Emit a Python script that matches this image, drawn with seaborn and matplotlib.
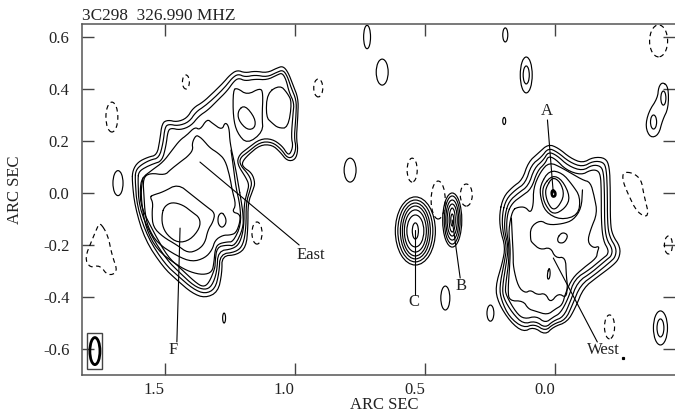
import matplotlib
matplotlib.use("Agg")
import matplotlib.pyplot as plt
import seaborn as sns
from matplotlib.patches import Ellipse, Rectangle

# === Tick labels and text ===
x_ticks = [1.5, 1.0, 0.5, 0.0]
x_labels = ["1.5", "1.0", "0.5", "0.0"]
y_ticks = [0.6, 0.4, 0.2, 0.0, -0.2, -0.4, -0.6]
y_labels = ["0.6", "0.4", "0.2", "0.0", "-0.2", "-0.4", "-0.6"]
title_text = "3C298  326.990 MHZ"
axis_text = "ARC SEC"

# Contour x values below were read against the tick labels, which sit left of
# their ticks, so they get this small correction when drawn
X_ZERO = 0.0166
X_SCALE = 1.0208

# === East lobe contours (arc sec, arc sec) ===
east_1 = [(1.577,.05),(1.574,.088),(1.555,.119),(1.517,.138),(1.483,.146),(1.472,.204),(1.464,.269),(1.442,.281),
          (1.408,.273),(1.370,.288),(1.347,.327),(1.309,.35),(1.272,.385),(1.234,.423),(1.208,.454),(1.181,.473),
          (1.151,.462),(1.113,.469),(1.068,.462),(1.030,.481),(1.008,.488),(.989,.465),(.970,.415),(.951,.365),
          (.951,.308),(.958,.215),(.951,.165),(.962,.127),(.992,.123),(1.019,.158),(1.049,.185),(1.094,.185),
          (1.140,.146),(1.162,.119),(1.159,.1),(1.125,.077),(1.113,.038),(1.121,.012),(1.140,-.038),(1.140,-.131),
          (1.147,-.208),(1.181,-.238),(1.238,-.242),(1.238,-.308),(1.253,-.381),(1.302,-.404),(1.351,-.385),
          (1.408,-.335),(1.460,-.285),(1.528,-.181),(1.566,-.054)]
east_2 = [(1.566,.058),(1.562,.088),(1.543,.108),(1.509,.127),(1.475,.135),(1.460,.192),(1.453,.254),(1.438,.265),
          (1.404,.258),(1.362,.273),(1.336,.312),(1.302,.335),(1.264,.369),(1.226,.408),(1.200,.442),(1.177,.458),
          (1.151,.446),(1.113,.454),(1.068,.446),(1.030,.465),(1.008,.473),(.992,.45),(.977,.404),(.958,.358),
          (.958,.308),(.966,.215),(.958,.173),(.970,.138),(.992,.135),(1.015,.169),(1.049,.196),(1.094,.196),
          (1.140,.158),(1.170,.135),(1.170,.108),(1.136,.069),(1.125,.038),(1.132,.012),(1.147,-.038),(1.147,-.131),
          (1.158,-.2),(1.185,-.227),(1.245,-.235),(1.249,-.308),(1.264,-.369),(1.302,-.388),(1.347,-.369),
          (1.404,-.319),(1.453,-.273),(1.517,-.173),(1.558,-.054)]
east_3 = [(1.555,.058),(1.551,.081),(1.532,.096),(1.498,.112),(1.464,.123),(1.449,.181),(1.442,.238),(1.430,.25),
          (1.396,.242),(1.355,.258),(1.325,.296),(1.291,.319),(1.257,.354),(1.219,.392),(1.192,.431),(1.174,.442),
          (1.151,.431),(1.113,.438),(1.068,.435),(1.030,.454),(1.011,.462),(.996,.435),(.985,.388),(.966,.346),
          (.970,.308),(.977,.215),(.970,.181),(.981,.15),(.992,.15),(1.011,.181),(1.049,.208),(1.094,.208),
          (1.140,.173),(1.174,.146),(1.181,.112),(1.147,.058),(1.136,.031),(1.143,.004),(1.155,-.046),(1.155,-.131),
          (1.170,-.192),(1.196,-.215),(1.253,-.223),(1.257,-.304),(1.276,-.358),(1.302,-.373),(1.343,-.358),
          (1.400,-.304),(1.445,-.258),(1.505,-.165),(1.551,-.054)]
east_4 = [(1.174,.019),(1.166,-.027),(1.158,-.085),(1.158,-.135),(1.189,-.204),(1.219,-.2),(1.257,-.208),(1.264,-.265),
          (1.264,-.288),(1.287,-.346),(1.309,-.362),(1.340,-.342),(1.396,-.288),(1.442,-.246),(1.494,-.154),
          (1.543,-.054),(1.547,.012),(1.540,.058),(1.502,.088),(1.460,.119),(1.426,.165),(1.396,.204),(1.370,.223),
          (1.340,.254),(1.321,.242),(1.294,.285),(1.275,.269),(1.238,.242),(1.226,.273),(1.211,.254),(1.208,.192),
          (1.189,.108)]
east_5 = [(1.536,.058),(1.509,.077),(1.453,.069),(1.434,.088),(1.396,.119),(1.370,.138),(1.347,.165),(1.351,.192),
          (1.336,.223),(1.321,.215),(1.309,.204),(1.283,.173),(1.253,.154),(1.226,.127),(1.208,.062),(1.200,.012),
          (1.185,-.046),(1.200,-.073),(1.170,-.081),(1.170,-.112),(1.185,-.154),(1.208,-.162),(1.234,-.162),
          (1.264,-.181),(1.275,-.219),(1.302,-.25),(1.351,-.265),(1.408,-.242),(1.483,-.192),(1.517,-.131),
          (1.528,-.077),(1.532,-.015)]
east_mid = [(1.509,-.015),(1.498,-.008),(1.460,.004),(1.404,.035),(1.351,-.008),(1.294,-.054),(1.264,-.077),
            (1.272,-.112),(1.291,-.142),(1.302,-.192),(1.328,-.219),(1.366,-.231),(1.408,-.2),(1.460,-.169),
            (1.498,-.131),(1.502,-.077),(1.498,-.038)]
east_peak = [(1.464,-.077),(1.453,-.05),(1.426,-.035),(1.385,-.046),(1.351,-.073),(1.321,-.096),(1.321,-.135),
             (1.358,-.181),(1.404,-.192),(1.445,-.162),(1.464,-.123)]
east_knot = [(1.238,-.073),(1.223,-.096),(1.223,-.119),(1.238,-.135),(1.253,-.119),(1.253,-.088)]
east_up_a = [(1.196,.396),(1.181,.404),(1.143,.377),(1.094,.404),(1.083,.385),(1.087,.292),(1.083,.235),(1.143,.188),
             (1.181,.231),(1.196,.292)]
east_up_b = [(1.068,.385),(1.019,.415),(.992,.385),(.974,.35),(.989,.25),(1.026,.25),(1.049,.269),(1.072,.292)]
east_up_c = [(1.177,.319),(1.151,.338),(1.113,.288),(1.113,.25),(1.143,.242),(1.177,.281)]
east_arc = [(1.204,.165),(1.196,.108),(1.185,.019),(1.170,-.046),(1.166,-.123),(1.196,-.188),(1.219,-.188),
            (1.253,-.196),(1.264,-.219),(1.268,-.265),(1.275,-.304),(1.309,-.315),(1.358,-.304),(1.408,-.277),
            (1.483,-.219),(1.525,-.135),(1.540,-.046),(1.543,.012),(1.536,.058)]

# === West source contours ===
west_1 = [(.192,-.077),(.177,-.015),(.143,.023),(.106,.05),(.083,.119),(.045,.154),(.008,.188),(-.030,.173),
          (-.075,.135),(-.121,.115),(-.162,.138),(-.208,.135),(-.223,.1),(-.226,.012),(-.226,-.115),(-.234,-.162),
          (-.264,-.208),(-.26,-.25),(-.238,-.277),(-.177,-.323),(-.125,-.365),(-.094,-.442),(-.064,-.496),
          (-.011,-.515),(.019,-.546),(.064,-.515),(.102,-.535),(.151,-.496),(.196,-.423),(.208,-.362),(.181,-.269),
          (.17,-.208),(.189,-.142)]
west_2 = [(.181,-.077),(.166,-.023),(.132,.012),(.094,.038),(.072,.108),(.034,.138),(.008,.173),(-.026,.158),
          (-.072,.119),(-.121,.1),(-.162,.123),(-.2,.119),(-.211,.092),(-.215,.012),(-.215,-.115),(-.223,-.169),
          (-.249,-.212),(-.245,-.246),(-.226,-.265),(-.170,-.312),(-.113,-.354),(-.083,-.431),(-.057,-.488),
          (-.011,-.504),(.019,-.531),(.06,-.504),(.102,-.519),(.155,-.477),(.185,-.412),(.192,-.362),(.174,-.269),
          (.164,-.208),(.181,-.142)]
west_3 = [(.17,-.077),(.155,-.031),(.121,0),(.083,.027),(.06,.096),(.026,.127),(.008,.158),(-.023,.146),(-.068,.104),
          (-.121,.085),(-.158,.108),(-.189,.104),(-.2,.081),(-.204,.012),(-.204,-.115),(-.211,-.177),(-.234,-.215),
          (-.23,-.242),(-.215,-.254),(-.158,-.304),(-.102,-.342),(-.075,-.419),(-.049,-.477),(-.011,-.492),
          (.019,-.519),(.057,-.492),(.102,-.504),(.143,-.462),(.177,-.404),(.181,-.362),(.166,-.269),(.158,-.208),
          (.174,-.142)]
west_4 = [(.162,-.077),(.143,-.038),(.109,-.012),(.072,.015),(.049,.085),(.019,.115),(.008,.142),(-.019,.131),
          (-.060,.088),(-.117,.069),(-.151,.088),(-.177,.088),(-.189,.069),(-.192,.012),(-.192,-.115),(-.2,-.185),
          (-.219,-.219),(-.215,-.238),(-.204,-.246),(-.151,-.292),(-.091,-.331),(-.068,-.404),(-.038,-.462),
          (-.011,-.477),(.019,-.5),(.053,-.473),(.098,-.485),(.128,-.462),(.168,-.392),(.17,-.362),(.158,-.277),
          (.155,-.208),(.166,-.142)]
west_5 = [(.143,-.065),(.121,-.054),(.094,-.054),(.075,-.077),(.064,-.046),(.064,.019),(.038,.081),(.004,.119),
          (-.045,.096),(-.121,.05),(-.151,.042),(-.166,-.015),(-.177,-.077),(-.151,-.142),(-.14,-.188),(-.162,-.212),
          (-.185,-.204),(-.177,-.227),(-.174,-.25),(-.125,-.288),(-.083,-.327),(-.057,-.385),(-.045,-.431),
          (-.019,-.446),(.011,-.469),(.057,-.454),(.083,-.446),(.102,-.415),(.155,-.415),(.160,-.373),(.153,-.277),
          (.151,-.208),(.158,-.142)]
west_ring_1 = [(.038,.031),(.004,.088),(-.045,.077),(-.083,.031),(-.113,-.015),(-.106,-.085),(-.038,-.104),
               (.019,-.073),(.038,-.015)]
west_ring_2 = [(.026,.031),(-.008,.069),(-.045,.05),(-.075,-.015),(-.057,-.058),(-.011,-.085),(.019,-.046),(.030,-.008)]
west_ring_3 = [(.015,.023),(-.008,.062),(-.038,.042),(-.053,-.008),(-.030,-.054),(-.008,-.065),(.011,-.035),(.019,0)]
west_peak = [(-.008,.012),(-.019,.004),(-.019,-.012),(-.008,-.015),(-.004,0)]
west_knot_a = [(-.026,-.173),(-.045,-.15),(-.068,-.162),(-.053,-.192),(-.03,-.192)]
west_knot_b = [(.011,-.308),(.004,-.285),(0,-.308),(.004,-.331),(.011,-.331)]
west_open_a = [(-.121,.012),(-.117,-.058),(-.087,-.104),(-.045,-.119),(.008,-.123),(.038,-.104),(.075,-.131),
               (.075,-.181),(.068,-.192),(.038,-.219),(0,-.208),(-.019,-.25),(-.057,-.246),(-.06,-.315),(-.064,-.354)]
west_open_b = [(.147,-.096),(.143,-.181),(.14,-.238),(.14,-.285),(.121,-.362),(.094,-.385),(.075,-.373),(.049,-.392),
               (.019,-.385),(0,-.423),(-.03,-.385),(-.06,-.404),(-.064,-.354)]

# === Other irregular contours ===
peanut = [(-.423,.427),(-.445,.408),(-.445,.327),(-.423,.281),(-.408,.223),(-.377,.212),(-.358,.254),(-.37,.312),
          (-.404,.365),(-.408,.408)]
dash_left = [(1.698,-.112),(1.668,-.162),(1.653,-.238),(1.63,-.304),(1.668,-.319),(1.698,-.277),(1.736,-.288),
             (1.755,-.25),(1.728,-.181),(1.709,-.135)]
dash_right = [(-.275,.081),(-.313,.077),(-.343,.05),(-.351,0),(-.374,-.096),(-.328,-.077),(-.291,0),(-.272,.05)]

# === Compact sources C and B: nested rings ===
c_pos = (0.509, -0.146)
c_widths = [.151, .132, .113, .098, .083, .064, .023]
c_heights = [.262, .238, .215, .192, .162, .123, .062]
b_pos = (0.37, -0.104)
b_widths = [.072, .06, .049, .038, .023, .011]
b_heights = [.208, .185, .154, .123, .092, .046]

# Small solid ovals: x, y, width, height
solid_x = [1.63, 1.23, .755, .634, .691, .17, .091, .091, .226, .396, .174, -.415, -.415, -.426, -.389]
solid_y = [.038, -.481, .088, .465, .6, .608, .454, .454, -.462, -.404, .277, -.519, -.519, .365, .273]
solid_w = [.038, .011, .045, .045, .026, .019, .045, .023, .026, .034, .011, .053, .026, .019, .023]
solid_h = [.096, .038, .092, .1, .09, .054, .138, .069, .062, .092, .027, .131, .069, .054, .054]

# Small dashed ovals
dash_x = [1.374, 1.653, .875, 1.106, .423, .317, .521, -.223, -.445, -.408]
dash_y = [.427, .292, .404, -.154, -.027, -.008, .088, -.515, -.2, .585]
dash_w = [.026, .045, .034, .038, .053, .045, .038, .038, .03, .068]
dash_h = [.054, .115, .069, .085, .146, .085, .092, .092, .069, .123]

# === Labels and leader lines ===
names = ["A", "B", "C", "East", "F", "West"]
name_x = [.015, .336, .513, .902, 1.423, -.2]
name_y = [.315, -.358, -.419, -.238, -.604, -.604]
lead_x0 = [.011, .37, .509, 1.321, 1.396, -.011]
lead_y0 = [.281, -.104, -.142, .119, -.135, -.25]
lead_x1 = [-.011, .34, .509, .947, 1.408, -.177]
lead_y1 = [0, -.327, -.392, -.2, -.573, -.573]
speck = (-.272, -.635)

# Beam
beam = (1.717, -0.608, .038, .104)
beam_box = (1.691, -0.677, .056, .139)

sns.set_theme(style="ticks")
plt.rcParams["font.family"] = ["Liberation Serif", "DejaVu Serif"]
plt.rcParams["font.size"] = 12

fig = plt.figure(figsize=(6.75, 4.19), dpi=100)
ax = fig.add_axes([82 / 675, 44 / 419, 593 / 675, 351 / 419])

LINE = 0.85


def fix_x(x):
    return X_ZERO + X_SCALE * x


def rounded(pts, closed):
    # corner cutting so the traced contours draw as curves
    for _ in range(2):
        new = []
        n = len(pts) if closed else len(pts) - 1
        for i in range(n):
            a = pts[i]
            b = pts[(i + 1) % len(pts)]
            new.append((0.75 * a[0] + 0.25 * b[0], 0.75 * a[1] + 0.25 * b[1]))
            new.append((0.25 * a[0] + 0.75 * b[0], 0.25 * a[1] + 0.75 * b[1]))
        if not closed:
            new = [pts[0]] + new + [pts[-1]]
        pts = new
    return pts


def draw(pts, closed=True, dashed=False, lw=LINE):
    pts = rounded(pts, closed)
    if closed:
        pts = pts + pts[:1]
    xs = [fix_x(p[0]) for p in pts]
    ys = [p[1] for p in pts]
    ls = (0, (4, 3)) if dashed else "-"
    sns.lineplot(x=xs, y=ys, sort=False, estimator=None, color="black", lw=lw, linestyle=ls, ax=ax)


def oval(x, y, w, h, dashed=False, lw=LINE):
    ax.add_patch(Ellipse((fix_x(x), y), w * X_SCALE, h, fill=False, ec="black", lw=lw,
                         ls=(0, (4, 3)) if dashed else "-"))


for c in [east_1, east_2, east_3, east_4, east_5, east_mid, east_peak, east_knot, east_up_a, east_up_b, east_up_c,
          west_1, west_2, west_3, west_4, west_5, west_ring_1, west_ring_2, west_ring_3, west_knot_a, west_knot_b,
          peanut]:
    draw(c)
draw(west_peak, lw=1.8)
for c in [east_arc, west_open_a, west_open_b]:
    draw(c, closed=False)
for c in [dash_left, dash_right]:
    draw(c, dashed=True)

for w, h in zip(c_widths, c_heights):
    oval(c_pos[0], c_pos[1], w, h)
for w, h in zip(b_widths, b_heights):
    oval(b_pos[0], b_pos[1], w, h)
for x, y, w, h in zip(solid_x, solid_y, solid_w, solid_h):
    oval(x, y, w, h)
for x, y, w, h in zip(dash_x, dash_y, dash_w, dash_h):
    oval(x, y, w, h, dashed=True)

# leader lines and names
for x0, y0, x1, y1 in zip(lead_x0, lead_y0, lead_x1, lead_y1):
    ax.plot([fix_x(x0), fix_x(x1)], [y0, y1], color="black", lw=0.8)
for n, x, y in zip(names, name_x, name_y):
    ax.text(fix_x(x), y, n, ha="center", va="center", fontsize=12, color="#222222")
ax.plot([fix_x(speck[0])], [speck[1]], marker="s", ms=1.3, color="black")

oval(beam[0], beam[1], beam[2], beam[3], lw=2.0)
ax.add_patch(Rectangle((fix_x(beam_box[0]), beam_box[1]), beam_box[2] * X_SCALE, beam_box[3],
                       fill=False, ec="#444444", lw=1.0))

ax.set_xlim(1.819, -0.463)
ax.set_ylim(-0.70, 0.65)
ax.set_xticks(x_ticks)
ax.set_xticklabels(x_labels, ha="right")
ax.set_yticks(y_ticks)
ax.set_yticklabels(y_labels)
ax.tick_params(axis="both", direction="in", length=8.6, width=1.0, color="#444444", labelsize=12,
               labelcolor="#222222", right=True, top=True)
ax.tick_params(axis="y", pad=9)
ax.tick_params(axis="x", pad=5)
for side in ["left", "bottom", "top"]:
    ax.spines[side].set_color("#555555")
    ax.spines[side].set_linewidth(1.1)
ax.spines["right"].set_visible(False)
ax.set_xlabel(axis_text, fontsize=12, color="#222222")
ax.set_ylabel(axis_text, fontsize=12, color="#222222")
ax.xaxis.set_label_coords(302 / 593, -30 / 351)
ax.yaxis.set_label_coords(-67 / 593, 185 / 351)
ax.xaxis.label.set_va("center")
ax.yaxis.label.set_va("center")
ax.set_title(title_text, loc="left", fontsize=12.4, pad=3, color="#222222")

fig.savefig("out.png", dpi=100)
